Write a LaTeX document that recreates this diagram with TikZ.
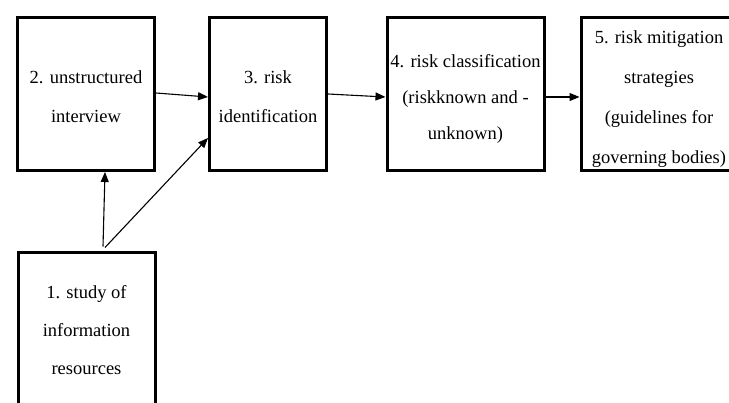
\documentclass[tikz,border=0pt]{standalone}
\usepackage{fontspec}
\setmainfont{Liberation Serif}
\usetikzlibrary{arrows.meta,calc}
\begin{document}
\begin{tikzpicture}[x=1pt,y=-1pt,
  box/.style={draw,line width=3pt,inner sep=0pt},
  txt/.style={inner sep=0pt,align=center,font=\fontsize{18.5}{39}\selectfont},
  conn/.style={line width=1.1pt,-{Triangle[length=10pt,width=8pt]}}]
\useasboundingbox (0,0) rectangle (729,403);
\node[box,minimum width=137pt,minimum height=153pt] (b2) at (86,94) {};
\node[txt] (t2) at ($(b2)+(0,3)$) {2. unstructured\\interview};
\node[box,minimum width=117pt,minimum height=153pt] (b3) at (268,94) {};
\node[txt] (t3) at ($(b3)+(0,3)$) {3. risk\\identification};
\node[box,minimum width=157pt,minimum height=153pt] (b4) at (465.5,94.5) {};
\node[txt] (t4) at ($(b4)+(0,4.5)$) {4. risk classification\\[-3pt](riskknown and -\\[-3pt]unknown)};
\node[box,minimum width=156pt,minimum height=153pt] (b5) at (659,94.5) {};
\node[txt] (t5) at ($(b5)+(0,4.5)$) {5. risk mitigation\\[1pt]strategies\\[1pt](guidelines for\\[1pt]governing bodies)};
\node[box,minimum width=137pt,minimum height=154pt] (b1) at (86.5,330) {};
\node[txt] (t1) at (b1) {1. study of\\[-1pt]information\\[-1pt]resources};
\draw[conn] ($(b2.east)+(0,-1)$) -- ($(b3.west)+(0,3)$);
\draw[conn] (b3.east) -- ($(b4.west)+(0,2.5)$);
\draw[conn] ($(b4.east)+(0,2.5)$) -- ($(b5.west)+(0,2.5)$);
\draw[conn] ($(b1.north)+(16.5,-5)$) -- ($(b2.south)+(19,0)$);
\draw[conn] ($(b1.north)+(18.5,-4)$) -- ($(b3.south west)+(0,-34)$);
\end{tikzpicture}
\end{document}
